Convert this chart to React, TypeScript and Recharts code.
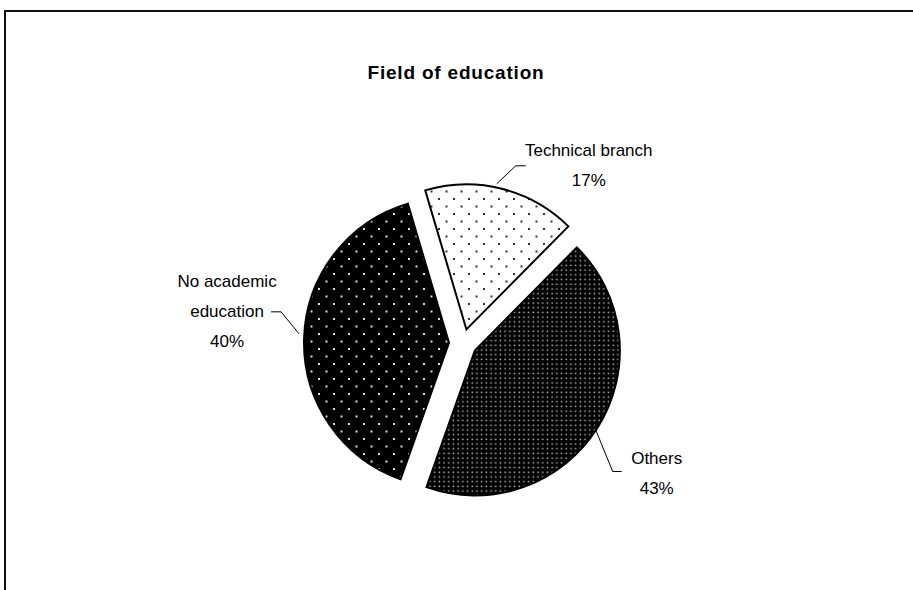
import React from "react";
import { PieChart, Pie, Cell } from "recharts";

const title = "Field of education";
const categories = ["Technical branch", "Others", "No academic education"];
const shares = [17, 43, 40];
const labelLines = [["Technical branch"], ["Others"], ["No academic", "education"]];

const data = categories.map((name, i) => ({ name, value: shares[i] }));

const W = 913;
const H = 590;
const CX = 458;
const CY = 338;
const R = 145;
const EXPLODE = 14;
const START = 106.5;
const FONT = "'Liberation Sans', Arial, sans-serif";
const fills = ["url(#pTech)", "url(#pOthers)", "url(#pAcad)"];
const labelLayout = [
  { elbow: [19, -18], tail: 10, text: [73, 0] },
  { elbow: [20, 49], tail: 9, text: [44, 2] },
  { elbow: [-18, -22], tail: -10, text: [-54, 0] },
];

const total = shares.reduce((a, b) => a + b, 0);
const midAngles = shares.map((v, i) => {
  const before = shares.slice(0, i).reduce((a, b) => a + b, 0);
  return START - ((before + v / 2) / total) * 360;
});
const centers = midAngles.map((m) => {
  const rad = (m * Math.PI) / 180;
  return [CX + EXPLODE * Math.cos(rad), CY - EXPLODE * Math.sin(rad)];
});

const makeLabel = (k: number) => (props: any) => {
  if (props.index !== k) return null;
  const [cx, cy] = centers[k];
  const rad = (midAngles[k] * Math.PI) / 180;
  const sx = cx + R * Math.cos(rad);
  const sy = cy - R * Math.sin(rad);
  const lay = labelLayout[k];
  const ex = sx + lay.elbow[0];
  const ey = sy + lay.elbow[1];
  const tx = ex + lay.tail;
  const lines = [...labelLines[k], `${shares[k]}%`];
  const bx = ex + lay.text[0];
  const by = ey + lay.text[1];
  return (
    <g>
      <polyline points={`${sx},${sy} ${ex},${ey} ${tx},${ey}`} fill="none" stroke="#000" strokeWidth={1} />
      {lines.map((t, i) => (
        <text
          key={i}
          x={bx}
          y={by + (i - (lines.length - 1) / 2) * 30}
          textAnchor="middle"
          dominantBaseline="central"
          fontFamily={FONT}
          fontSize={17}
          fill="#000"
        >
          {t}
        </text>
      ))}
    </g>
  );
};

export default function App() {
  return (
    <div style={{ position: "absolute", left: 0, top: 0, width: W, height: H, background: "#fff", overflow: "hidden" }}>
      <svg width={0} height={0} style={{ position: "absolute" }}>
        <defs>
          <pattern id="pTech" patternUnits="userSpaceOnUse" width={15} height={15}>
            <rect width={15} height={15} fill="#fff" />
            <rect x={3} y={3} width={2} height={2} fill="#333" />
            <rect x={10.5} y={10.5} width={2} height={2} fill="#333" />
          </pattern>
          <pattern id="pAcad" patternUnits="userSpaceOnUse" width={15} height={15}>
            <rect width={15} height={15} fill="#000" />
            <rect x={3} y={3} width={2} height={2} fill="#ddd" />
            <rect x={10.5} y={10.5} width={2} height={2} fill="#ddd" />
          </pattern>
          <pattern id="pOthers" patternUnits="userSpaceOnUse" width={4.7} height={4.7}>
            <rect width={4.7} height={4.7} fill="#000" />
            <rect x={1.5} y={1.5} width={1.5} height={1.5} fill="#bbb" />
          </pattern>
        </defs>
      </svg>
      <svg width={W} height={H} style={{ position: "absolute", left: 0, top: 0 }}>
        <rect x={5} y={11} width={W + 20} height={H + 20} fill="none" stroke="#111" strokeWidth={2} />
        <text
          x={456}
          y={72}
          textAnchor="middle"
          dominantBaseline="central"
          fontFamily={FONT}
          fontWeight="bold"
          fontSize={19}
          letterSpacing={0.8}
          fill="#000"
        >
          {title}
        </text>
      </svg>
      <div style={{ position: "absolute", left: 0, top: 0 }}>
        <PieChart width={W} height={H}>
          {categories.map((_, k) => (
            <Pie
              key={k}
              data={data}
              dataKey="value"
              nameKey="name"
              cx={centers[k][0]}
              cy={centers[k][1]}
              outerRadius={R}
              startAngle={START}
              endAngle={START - 360}
              isAnimationActive={false}
              labelLine={false}
              label={makeLabel(k)}
            >
              {data.map((_, i) => (
                <Cell
                  key={i}
                  fill={i === k ? fills[k] : "none"}
                  stroke={i === k ? "#000" : "none"}
                  strokeWidth={i === k ? 2 : 0}
                />
              ))}
            </Pie>
          ))}
        </PieChart>
      </div>
    </div>
  );
}
